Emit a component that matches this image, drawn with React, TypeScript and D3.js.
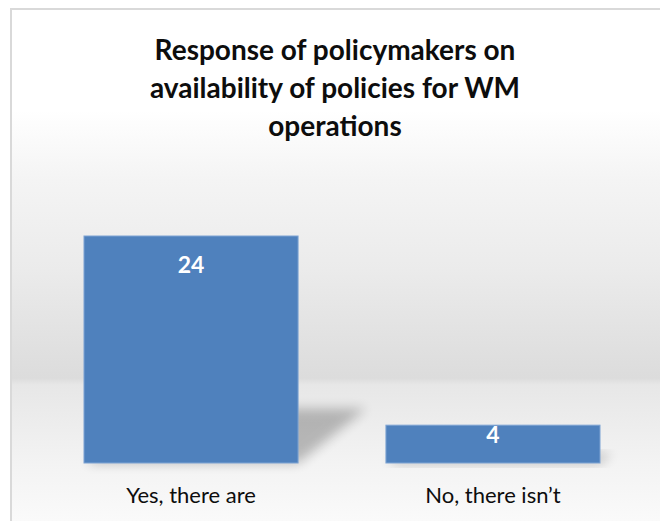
import React from "react";
import * as d3 from "d3";

const categories = ["Yes, there are", "No, there isn\u2019t"];
const values = [24, 4];
const titleLines = [
  "Response of policymakers on",
  "availability of policies for WM",
  "operations",
];

const W = 660;
const H = 521;

export default function App() {
  const x = d3
    .scaleBand<string>()
    .domain(categories)
    .range([40, 644])
    .paddingInner(0.291)
    .paddingOuter(0.1457);
  const y = d3.scaleLinear().domain([0, 24]).range([463, 236]);
  const base = y(0);

  const shadowPts = (c: string, v: number) => {
    const x0 = x(c)!;
    const x1 = x0 + x.bandwidth();
    const h = base - y(v);
    const dy = h * 0.24;
    const dx = h * 0.3;
    return [
      [x0 + 2, base],
      [x1, base],
      [x1 + dx, base - dy],
      [x0 + dx, base - dy],
    ]
      .map((p) => p.join(","))
      .join(" ");
  };

  return (
    <svg
      width={W}
      height={H}
      style={{ position: "absolute", left: 0, top: 0 }}
      fontFamily="Lato, 'Open Sans', sans-serif"
    >
      <defs>
        <linearGradient id="bg" gradientUnits="userSpaceOnUse" x1="0" y1="0" x2="0" y2={H}>
          <stop offset={110 / H} stopColor="#ffffff" />
          <stop offset={180 / H} stopColor="#f4f4f4" />
          <stop offset={270 / H} stopColor="#ebebeb" />
          <stop offset={378 / H} stopColor="#dcdcdc" />
          <stop offset={385 / H} stopColor="#e7e7e7" />
          <stop offset={463 / H} stopColor="#f3f3f3" />
          <stop offset={1} stopColor="#fafafa" />
        </linearGradient>
        <filter id="blur" x="-20%" y="-50%" width="140%" height="200%">
          <feGaussianBlur stdDeviation="6" />
        </filter>
      </defs>
      <rect x={0} y={0} width={W} height={H} fill="#ffffff" />
      <rect
        x={11}
        y={9}
        width={W + 10}
        height={H + 10}
        fill="url(#bg)"
        stroke="#d9d9d9"
        strokeWidth={2}
      />
      {titleLines.map((t, i) => (
        <text
          key={i}
          x={335}
          y={60 + i * 38}
          textAnchor="middle"
          fontSize={28}
          fontWeight="bold"
          fill="#0d0d0d"
        >
          {t}
        </text>
      ))}
      {categories.map((c, i) => (
        <polygon
          key={"s" + i}
          points={shadowPts(c, values[i])}
          fill="#000"
          opacity={0.24}
          filter="url(#blur)"
        />
      ))}
      {categories.map((c, i) => {
        const h = base - y(values[i]);
        return (
          <g key={"b" + i}>
            <rect
              x={x(c)}
              y={y(values[i])}
              width={x.bandwidth()}
              height={h}
              fill="#4f81bd"
              stroke="#7ea4d4"
              strokeWidth={1}
            />
            <text
              x={x(c)! + x.bandwidth() / 2}
              y={y(values[i]) + Math.min(37, h * 0.47)}
              textAnchor="middle"
              fontSize={23}
              fontWeight="bold"
              fill="#ffffff"
            >
              {values[i]}
            </text>
            <text
              x={x(c)! + x.bandwidth() / 2}
              y={503}
              textAnchor="middle"
              fontSize={22}
              fill="#0d0d0d"
            >
              {c}
            </text>
          </g>
        );
      })}
    </svg>
  );
}
